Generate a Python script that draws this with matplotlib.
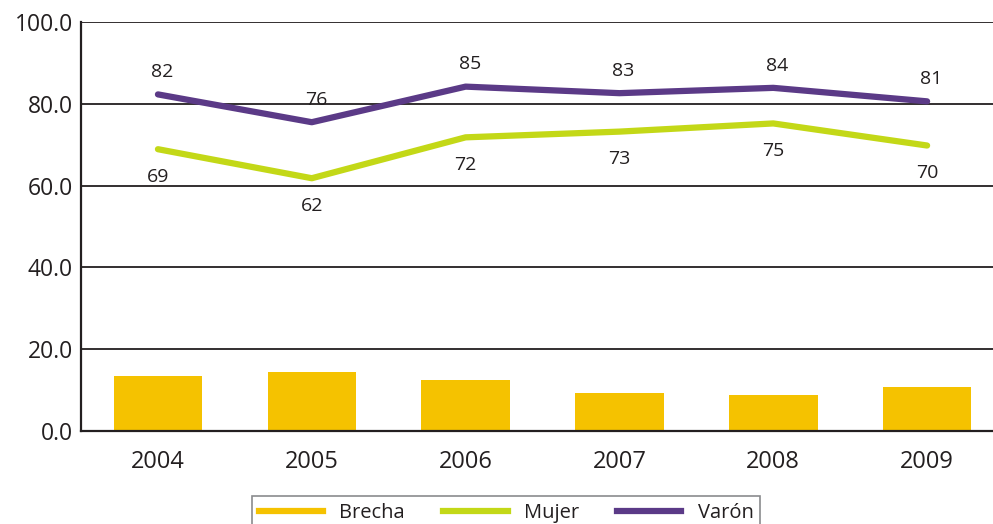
import matplotlib
matplotlib.use('Agg')
import matplotlib.pyplot as plt
from matplotlib.lines import Line2D
import numpy as np

years = ['2004', '2005', '2006', '2007', '2008', '2009']
brecha = [13.4, 14.4, 12.5, 9.3, 8.8, 10.8]
mujer = [68.9, 61.8, 71.8, 73.2, 75.2, 69.8]
varon = [82.3, 75.5, 84.2, 82.6, 83.9, 80.6]
mujer_lbl = [69, 62, 72, 73, 75, 70]
varon_lbl = [82, 76, 85, 83, 84, 81]

C_BRECHA = '#F5C200'
C_MUJER = '#C3D817'
C_VARON = '#5B3A87'
TXT = '#231F20'

plt.rcParams['font.family'] = ['Open Sans', 'DejaVu Sans']

fig = plt.figure(figsize=(9.93, 5.24), dpi=100)
ax = fig.add_axes([0.0816, 0.1775, 0.9295, 0.7805])

x = np.arange(len(years))
ax.bar(x, brecha, width=0.575, color=C_BRECHA, label='Brecha', zorder=2)
ax.plot(x, mujer, color=C_MUJER, lw=4.5, solid_capstyle='round',
        solid_joinstyle='round', label='Mujer', zorder=3)
ax.plot(x, varon, color=C_VARON, lw=4.5, solid_capstyle='round',
        solid_joinstyle='round', label='Varón', zorder=3)

for i in range(len(years)):
    ax.annotate(str(varon_lbl[i]), (x[i], varon[i]), xytext=(3, 16),
                textcoords='offset points', ha='center', va='center',
                fontsize=14, color=TXT)
    ax.annotate(str(mujer_lbl[i]), (x[i], mujer[i]), xytext=(0, -20),
                textcoords='offset points', ha='center', va='center',
                fontsize=14, color=TXT)

ax.set_xlim(-0.5, 5.5)
ax.set_ylim(0, 100)
ax.set_yticks(np.arange(0, 101, 20))
ax.set_yticklabels(['%.1f' % v for v in np.arange(0, 101, 20)])
ax.set_xticks(x)
ax.set_xticklabels(years)
ax.tick_params(axis='y', length=0, pad=6, labelsize=16.5, labelcolor=TXT)
ax.tick_params(axis='x', length=0, pad=14, labelsize=17, labelcolor=TXT)
ax.grid(axis='y', color='#231F20', lw=1.3, zorder=1)
ax.set_axisbelow(True)
for s in ['top', 'right']:
    ax.spines[s].set_visible(False)
ax.spines['left'].set_color('#231F20')
ax.spines['left'].set_linewidth(1.6)
ax.spines['bottom'].set_color('#231F20')
ax.spines['bottom'].set_linewidth(1.6)

handles = [Line2D([], [], color=C_BRECHA, lw=4.5),
           Line2D([], [], color=C_MUJER, lw=4.5),
           Line2D([], [], color=C_VARON, lw=4.5)]
leg = fig.legend(handles, ['Brecha', 'Mujer', 'Varón'], ncol=3,
                 loc='upper center', bbox_to_anchor=(0.5096, 0.0534),
                 borderaxespad=0, fontsize=14.5, frameon=True, fancybox=False,
                 handlelength=3.2, handletextpad=0.8, columnspacing=1.9,
                 borderpad=0.35, labelcolor=TXT)
leg.get_frame().set_edgecolor('#6D6E71')
leg.get_frame().set_linewidth(1.2)

fig.savefig('out.png', dpi=100)
